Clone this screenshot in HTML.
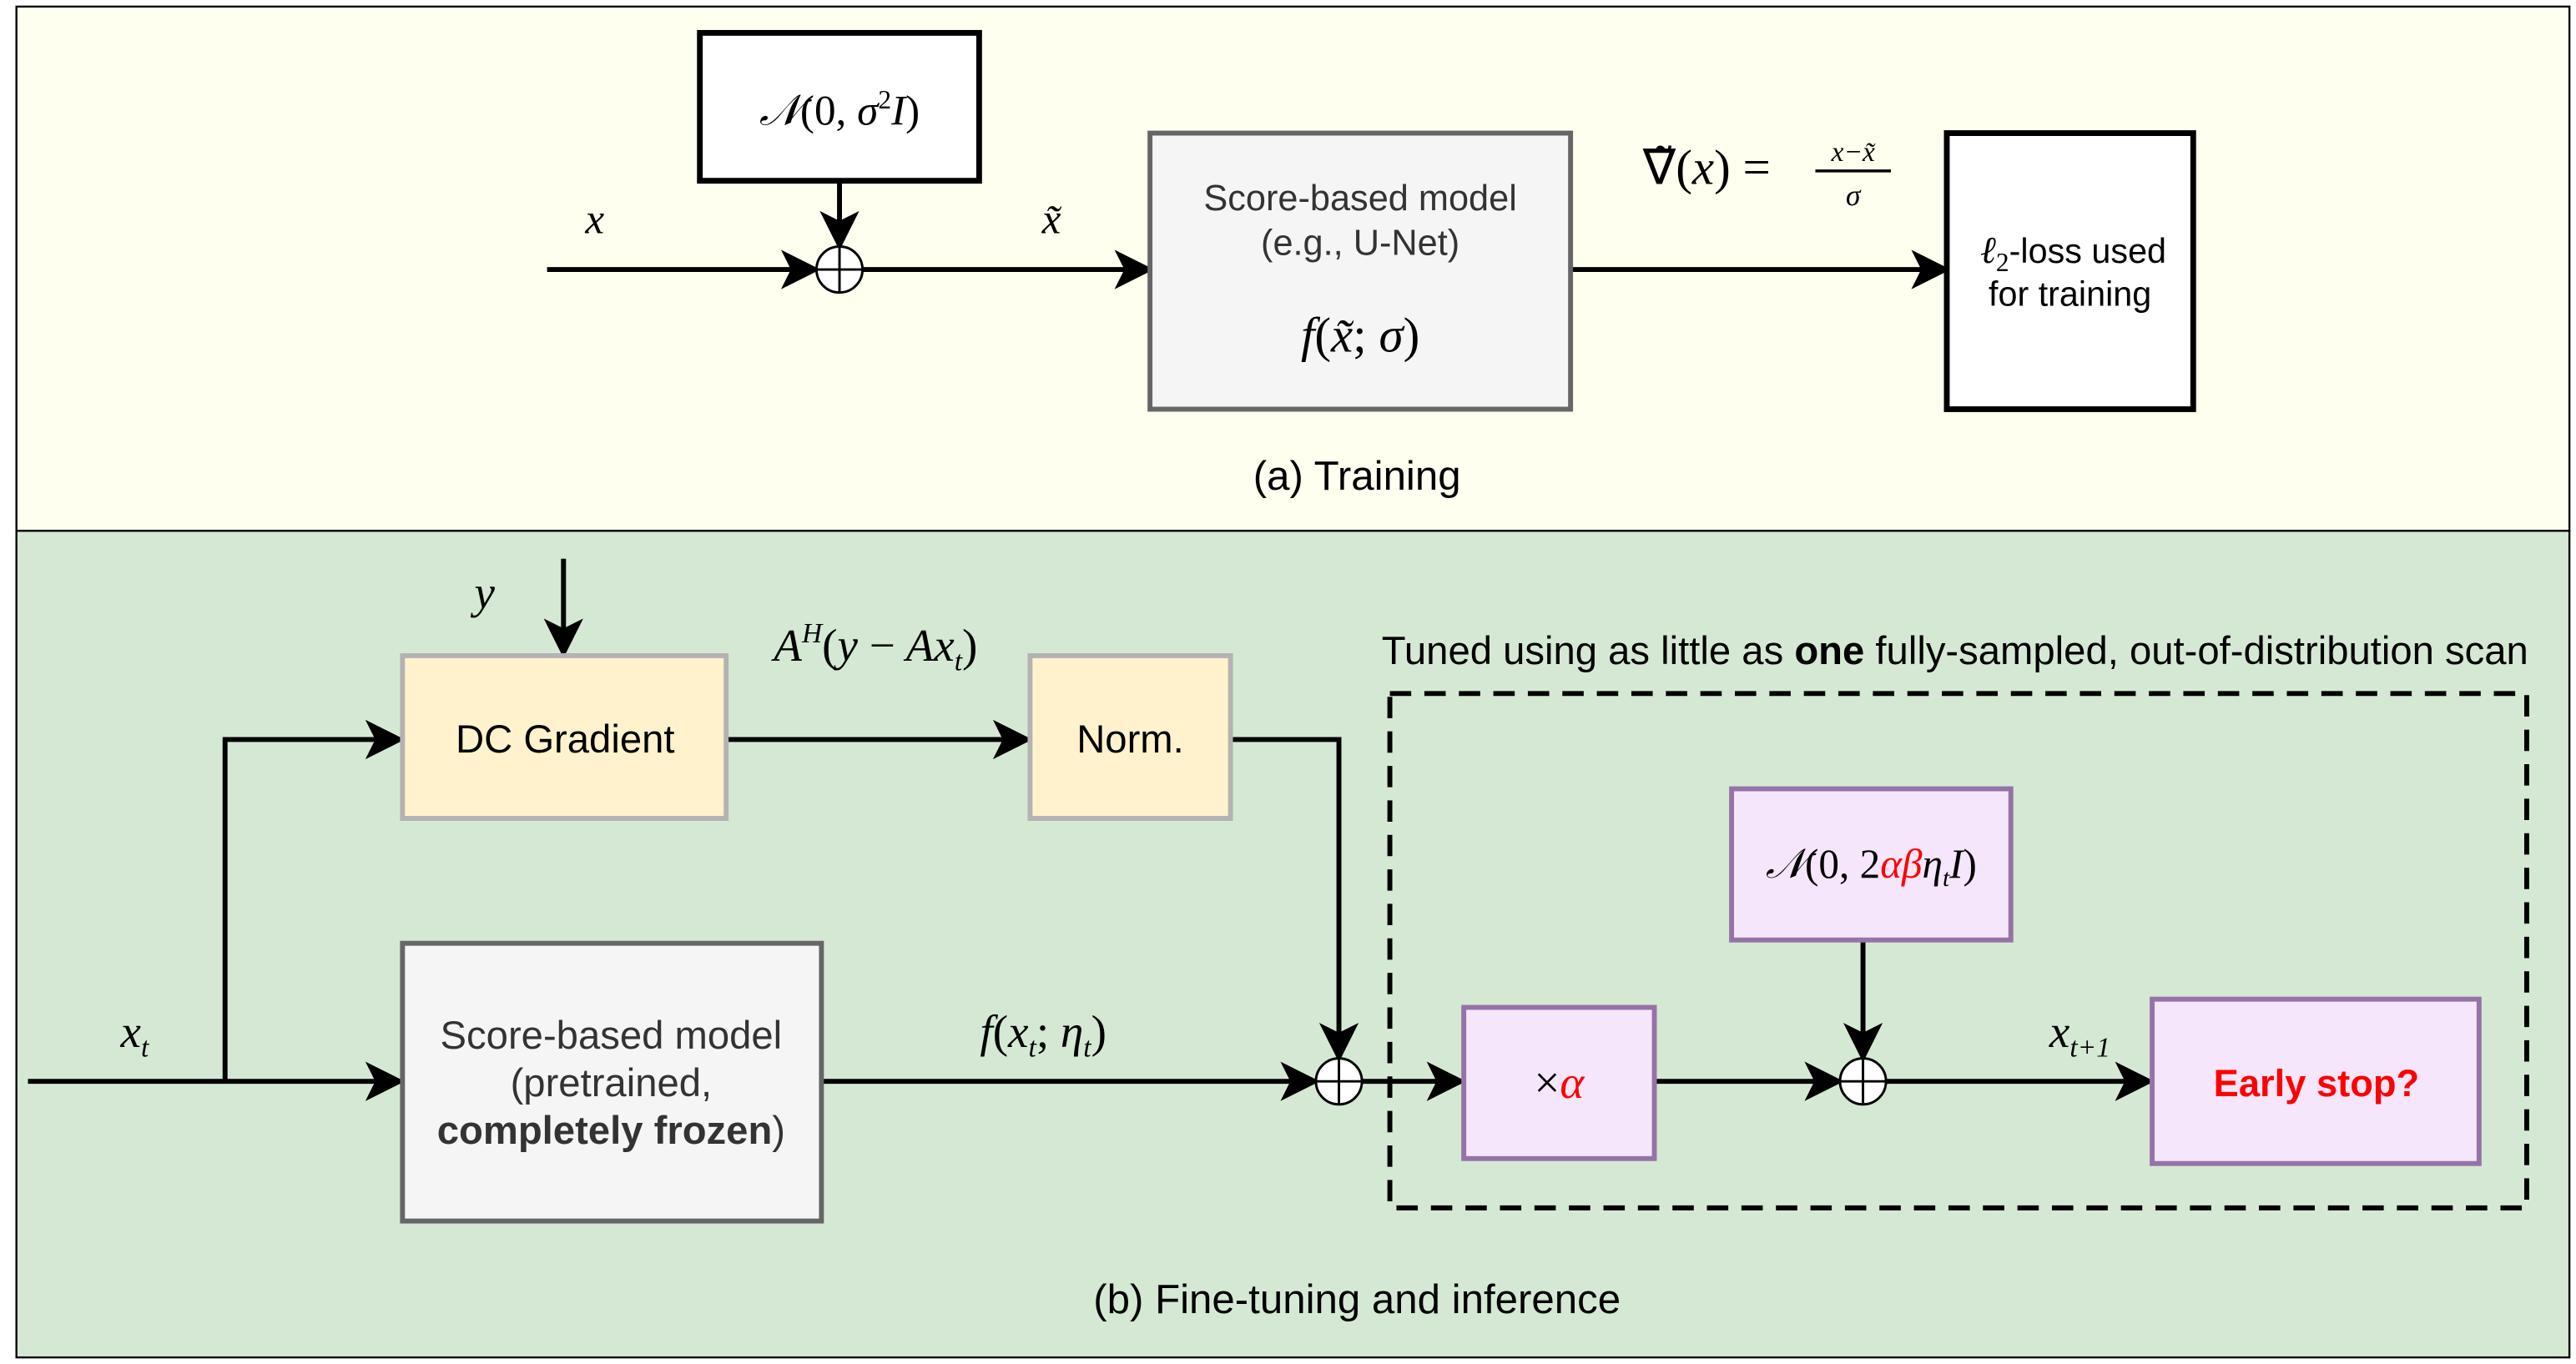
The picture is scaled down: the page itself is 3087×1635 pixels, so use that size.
<!DOCTYPE html>
<html><head><style>html,body{margin:0;padding:0;background:#fff}svg{display:block}
text{font-family:"Liberation Sans",sans-serif;fill:#000}
.m{font-family:"Liberation Serif",serif;font-style:italic}
.g{fill:#333}
</style></head><body>
<svg width="3087" height="1635" viewBox="0 0 1568 830" preserveAspectRatio="none" xmlns="http://www.w3.org/2000/svg">
<defs><marker id="a" viewBox="0 0 10 10" refX="9" refY="5" markerWidth="24" markerHeight="24" markerUnits="userSpaceOnUse" orient="auto"><path d="M0,0 L10,5 L0,10 L2.5,5 z" fill="#000"/></marker></defs>
<rect x="10" y="4" width="1554" height="319" fill="#fffff0" stroke="#000" stroke-width="1.2"/>
<rect x="10" y="323" width="1554" height="503" fill="#d5e8d4" stroke="#000" stroke-width="1.2"/>
<g stroke="#000" stroke-width="3" fill="none">
<line x1="333" y1="164" x2="497" y2="164" marker-end="url(#a)"/>
<line x1="511" y1="110" x2="511" y2="150" marker-end="url(#a)"/>
<line x1="525" y1="164" x2="700" y2="164" marker-end="url(#a)"/>
<line x1="956" y1="164" x2="1185" y2="164" marker-end="url(#a)"/>
<line x1="343" y1="340" x2="343" y2="398" marker-end="url(#a)"/>
<line x1="442" y1="450" x2="626" y2="450" marker-end="url(#a)"/>
<polyline points="749,450 815,450 815,644" marker-end="url(#a)"/>
<line x1="17" y1="658" x2="244" y2="658" marker-end="url(#a)"/>
<polyline points="137,658 137,450 244,450" marker-end="url(#a)"/>
<line x1="500" y1="658" x2="801" y2="658" marker-end="url(#a)"/>
<line x1="829" y1="658" x2="890" y2="658" marker-end="url(#a)"/>
<line x1="1007" y1="658" x2="1120" y2="658" marker-end="url(#a)"/>
<line x1="1134" y1="572" x2="1134" y2="644" marker-end="url(#a)"/>
<line x1="1148" y1="658" x2="1309" y2="658" marker-end="url(#a)"/>
</g>
<g stroke="#000" stroke-width="1.5" fill="#fff">
<circle cx="511" cy="164" r="14"/><path d="M497,164H525M511,150V178"/>
<circle cx="815" cy="658" r="14"/><path d="M801,658H829M815,644V672"/>
<circle cx="1134" cy="658" r="14"/><path d="M1120,658H1148M1134,644V672"/>
</g>
<rect x="426" y="20" width="170" height="90" fill="#fff" stroke="#000" stroke-width="3.5"/>
<text x="511" y="76" text-anchor="middle" font-size="26" class="m">𝒩<tspan font-style="normal">(0,</tspan> σ<tspan font-style="normal" font-size="16" dy="-10">2</tspan><tspan dy="10">I</tspan><tspan font-style="normal">)</tspan></text>
<text x="362" y="142" text-anchor="middle" font-size="26" class="m">x</text>
<text x="640" y="142" text-anchor="middle" font-size="26" class="m">x̃</text>
<rect x="700" y="81" width="256" height="168" fill="#f5f5f5" stroke="#666" stroke-width="3"/>
<text x="828" y="128" text-anchor="middle" font-size="22" class="g">Score-based model</text>
<text x="828" y="155" text-anchor="middle" font-size="22" class="g">(e.g., U-Net)</text>
<text x="828" y="214" text-anchor="middle" font-size="30" class="m">f<tspan font-style="normal">(</tspan>x̃<tspan font-style="normal">;</tspan> σ<tspan font-style="normal">)</tspan></text>
<text x="1000" y="112" font-size="30" class="m"><tspan font-style="normal">∇̃(</tspan>x<tspan font-style="normal">) =</tspan></text>
<text x="1128" y="98" text-anchor="middle" font-size="17" class="m">x−x̃</text>
<line x1="1105" y1="104" x2="1151" y2="104" stroke="#000" stroke-width="1.8"/>
<text x="1128" y="125" text-anchor="middle" font-size="18" class="m">σ</text>
<rect x="1185" y="81" width="150" height="168" fill="#fff" stroke="#000" stroke-width="3.5"/>
<text x="1262" y="160" text-anchor="middle" font-size="21"><tspan class="m" font-size="23">ℓ</tspan><tspan font-family="Liberation Serif" font-size="16" dy="5">2</tspan><tspan dy="-5">-loss used</tspan></text>
<text x="1260" y="186" text-anchor="middle" font-size="21">for training</text>
<text x="826" y="298" text-anchor="middle" font-size="25">(a) Training</text>
<text x="295" y="370" text-anchor="middle" font-size="28" class="m">y</text>
<rect x="245" y="399" width="197" height="99" fill="#fff2cc" stroke="#b3b3b3" stroke-width="3"/>
<text x="344" y="458" text-anchor="middle" font-size="24">DC Gradient</text>
<text x="533" y="402" text-anchor="middle" font-size="28" class="m">A<tspan font-size="17" dy="-11">H</tspan><tspan dy="11" font-style="normal">(</tspan>y <tspan font-style="normal">−</tspan> Ax<tspan font-size="17" dy="6">t</tspan><tspan dy="-6" font-style="normal">)</tspan></text>
<rect x="627" y="399" width="122" height="99" fill="#fff2cc" stroke="#b3b3b3" stroke-width="3"/>
<text x="688" y="458" text-anchor="middle" font-size="24">Norm.</text>
<text x="82" y="637" text-anchor="middle" font-size="28" class="m">x<tspan font-size="17" dy="6">t</tspan></text>
<rect x="245" y="574" width="255" height="169" fill="#f5f5f5" stroke="#666" stroke-width="3"/>
<text x="372" y="638" text-anchor="middle" font-size="24" class="g">Score-based model</text>
<text x="372" y="667" text-anchor="middle" font-size="24" class="g">(pretrained,</text>
<text x="372" y="696" text-anchor="middle" font-size="24" class="g"><tspan font-weight="bold">completely frozen</tspan>)</text>
<text x="635" y="637" text-anchor="middle" font-size="28" class="m">f<tspan font-style="normal">(</tspan>x<tspan font-size="17" dy="6">t</tspan><tspan dy="-6" font-style="normal">;</tspan> η<tspan font-size="17" dy="6">t</tspan><tspan dy="-6" font-style="normal">)</tspan></text>
<rect x="846" y="422" width="692" height="313" fill="none" stroke="#000" stroke-width="3" stroke-dasharray="13,8"/>
<text x="1190" y="404" text-anchor="middle" font-size="24">Tuned using as little as <tspan font-weight="bold">one</tspan> fully-sampled, out-of-distribution scan</text>
<rect x="891" y="613" width="116" height="92" fill="#f5e6fc" stroke="#9673a6" stroke-width="3"/>
<text x="949" y="668" text-anchor="middle" font-size="28" class="m"><tspan font-style="normal">×</tspan><tspan style="fill:#f00">α</tspan></text>
<rect x="1054" y="480" width="170" height="92" fill="#f5e6fc" stroke="#9673a6" stroke-width="3"/>
<text x="1139" y="534" text-anchor="middle" font-size="25" class="m">𝒩<tspan font-style="normal">(0, 2</tspan><tspan style="fill:#f00">αβ</tspan>η<tspan font-size="15" dy="5">t</tspan><tspan dy="-5">I</tspan><tspan font-style="normal">)</tspan></text>
<text x="1266" y="637" text-anchor="middle" font-size="28" class="m">x<tspan font-size="17" dy="6">t+1</tspan></text>
<rect x="1310" y="608" width="199" height="100" fill="#f5e6fc" stroke="#9673a6" stroke-width="3"/>
<text x="1410" y="667" text-anchor="middle" font-size="23" font-weight="bold" style="fill:#f00">Early stop?</text>
<text x="826" y="799" text-anchor="middle" font-size="25">(b) Fine-tuning and inference</text>
</svg>
</body></html>
